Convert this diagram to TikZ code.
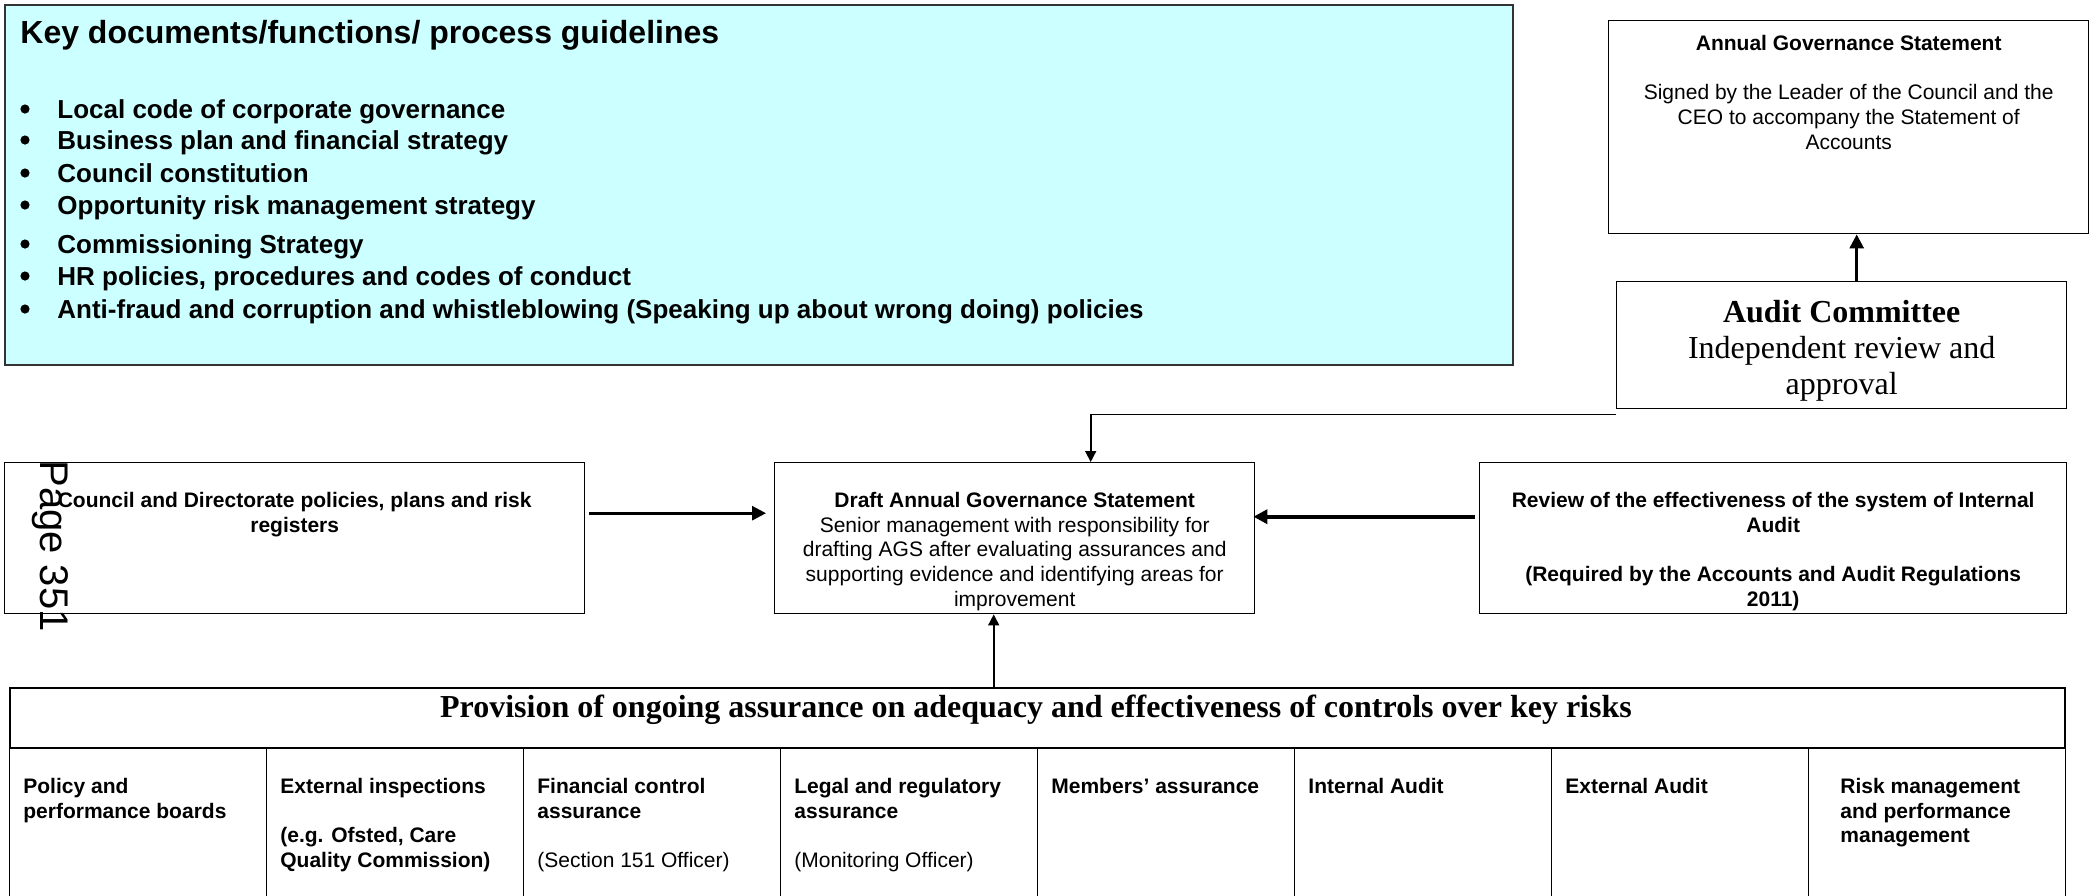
\documentclass[tikz,border=0pt]{standalone}
\usepackage{fontspec}
\setmainfont{Liberation Sans}
\newfontfamily\timesface{Liberation Serif}
\usetikzlibrary{arrows.meta,positioning}
\definecolor{keycyan}{HTML}{CCFFFF}
\tikzset{
	box/.style={draw,line width=0.7pt,anchor=north west,inner sep=0pt},
	boxtext/.style={align=center,inner sep=0pt,font=\fontsize{10.5}{12.3}\selectfont},
	celltext/.style={align=left,anchor=north west,inner sep=0pt,font=\bfseries\fontsize{10.5}{12.3}\selectfont},
	dot/.style={circle,fill,inner sep=0pt,minimum size=4.6pt},
	flow/.style={-{Triangle[length=7pt,width=7pt]},line width=1.4pt},
	thinflow/.style={-{Triangle[length=5.5pt,width=5.5pt]},line width=0.8pt},
}
\begin{document}
\begin{tikzpicture}[x=0.5pt,y=-0.5pt]
	\useasboundingbox (0,0) rectangle (2089,895);
	\node[box,fill=keycyan,draw=black!80,line width=1pt,minimum width=754pt,minimum height=180pt](keydocs) at (4,4) {};
	\node[anchor=base west,inner sep=0pt,font=\bfseries\fontsize{16}{19}\selectfont](keytitle) at (20,43) {Key documents/functions/ process guidelines};
	\foreach \yb/\txt [count=\i] in {118/Local code of corporate governance, 149/Business plan and financial strategy, 182/Council constitution, 214/Opportunity risk management strategy, 253/Commissioning Strategy, 285/{HR policies, procedures and codes of conduct}, 318/Anti-fraud and corruption and whistleblowing (Speaking up about wrong doing) policies}
	{
		\node[dot](dot\i) at (25,\yb-9) {};
		\node[anchor=base west,inner sep=0pt,font=\bfseries\fontsize{13}{15}\selectfont](item\i) at (57,\yb) {\txt};
	}
	\node[box,minimum width=240pt,minimum height=106.5pt](ags) at (1608,20) {};
	\node[boxtext,below=7.5pt of ags.north](agstext) {\textbf{Annual Governance Statement}\\[12.3pt]Signed by the Leader of the Council and the\\CEO to accompany the Statement of\\Accounts};
	\node[box,minimum width=225pt,minimum height=63.5pt](audit) at (1616,281) {};
	\node[align=center,inner sep=0pt,font=\timesface\fontsize{16}{18}\selectfont,yshift=-2.7pt](audittext) at (audit.center) {\textbf{Audit Committee}\\Independent review and\\approval};
	\node[box,minimum width=290pt,minimum height=75.5pt](council) at (4,462) {};
	\node[boxtext,font=\bfseries\fontsize{10.5}{12.3}\selectfont,below=15pt of council.north](counciltext) {Council and Directorate policies, plans and risk\\registers};
	\node[box,minimum width=240pt,minimum height=75.5pt](draft) at (774,462) {};
	\node[boxtext,below=15pt of draft.north](drafttext) {\textbf{Draft Annual Governance Statement}\\Senior management with responsibility for\\drafting AGS after evaluating assurances and\\supporting evidence and identifying areas for\\improvement};
	\node[box,minimum width=293.5pt,minimum height=75.5pt](review) at (1479,462) {};
	\node[boxtext,font=\bfseries\fontsize{10.5}{12.3}\selectfont,below=15pt of review.north](reviewtext) {Review of the effectiveness of the system of Internal\\Audit\\[12.3pt](Required by the Accounts and Audit Regulations\\2011)};
	\node[rotate=-90,inner sep=0pt,font=\fontsize{20}{24}\selectfont](pagenum) at (50,546) {Page 351};
	\node[box,draw,line width=1pt,minimum width=1027.5pt,minimum height=30pt](provision) at (9,687) {};
	\node[font=\timesface\bfseries\fontsize{16}{18}\selectfont,inner sep=0pt](provtitle) at (1036,710) {Provision of ongoing assurance on adequacy and effectiveness of controls over key risks};
	\foreach \dx/\txt [count=\i from 0] in {14/Policy and\\performance boards, 14/External inspections\\[12.3pt]{(e.g. Ofsted, Care}\\Quality Commission), 14/Financial control\\assurance\\[12.3pt]\mdseries(Section 151 Officer), 14/Legal and regulatory\\assurance\\[12.3pt]\mdseries(Monitoring Officer), 14/Members’ assurance, 14/Internal Audit, 14/External Audit, 32/Risk management\\and performance\\management}
	{
		\node[box,minimum width=128.5pt,minimum height=76pt](col\i) at ({9+257*\i},747) {};
		\node[celltext](coltext\i) at ({9+257*\i+\dx},778) {\txt};
	}
	\draw[flow] ([xshift=7.5pt]audit.north) -- ([xshift=7.5pt]audit.north |- ags.south);
	\draw[thinflow] ([yshift=-2.5pt]audit.south west) -| ([xshift=38pt]draft.north);
	\draw[flow] ([xshift=2pt,yshift=12.5pt]council.east) -- ([xshift=-4pt,yshift=12.5pt]draft.west);
	\draw[flow,line width=1.8pt] ([xshift=-2pt,yshift=10.75pt]review.west) -- ([xshift=-1pt,yshift=10.75pt]draft.east);
	\draw[thinflow] ([xshift=-10.5pt]draft.south |- provision.north) -- ([xshift=-10.5pt]draft.south);
\end{tikzpicture}
\end{document}
